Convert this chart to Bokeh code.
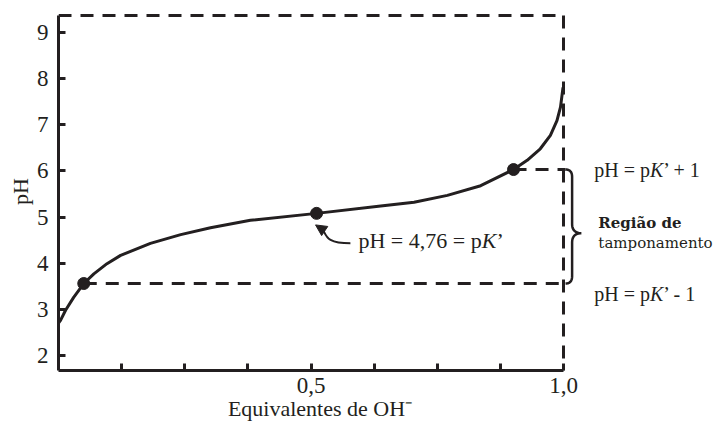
from bokeh.plotting import figure
from bokeh.layouts import row
from bokeh.models import Range1d, FixedTicker, CustomJSTickFormatter, Label, Arrow, NormalHead
from bokeh.embed import file_html
from bokeh.resources import INLINE
import numpy as np

# ---- data ----
eq_oh = [0.0, 0.004, 0.014, 0.030, 0.05, 0.070, 0.096, 0.123, 0.182, 0.242, 0.301, 0.380,
         0.511, 0.638, 0.704, 0.770, 0.836, 0.901, 0.928, 0.954, 0.974, 0.987, 0.994, 0.999]
ph = [2.70, 2.76, 2.98, 3.26, 3.56, 3.77, 3.99, 4.17, 4.43, 4.62, 4.77, 4.93,
      5.08, 5.24, 5.32, 5.47, 5.68, 6.03, 6.23, 6.48, 6.77, 7.09, 7.38, 7.81]
mark_x = [0.05, 0.511, 0.901]
mark_ph = [3.56, 5.08, 6.03]
x_ticks_major = [0.5, 1.0]
x_ticks_minor = [0.125, 0.25, 0.375, 0.625, 0.75, 0.875]
y_ticks = [2, 3, 4, 5, 6, 7, 8, 9]
x_title = "Equivalentes de OH\u207b"
y_title = "pH"
x_max = 1.0
ph_top = 9.368
ph_bottom = 1.675

INK = "#231f20"
SERIF = "Liberation Serif"

yr = Range1d(ph_bottom, 9.433)
X_SPLIT = 1.0356

p = figure(width=581, height=432, output_backend="svg", toolbar_location=None,
           x_range=Range1d(0, X_SPLIT), y_range=yr,
           min_border_left=58, min_border_right=0, min_border_top=12, min_border_bottom=62)
q = figure(width=135, height=432, output_backend="svg", toolbar_location=None,
           x_range=Range1d(X_SPLIT, 1.303), y_range=yr,
           x_axis_location=None, y_axis_location=None,
           min_border_left=0, min_border_right=0, min_border_top=12, min_border_bottom=62)
for f in (p, q):
    f.outline_line_color = None
    f.background_fill_color = "white"
    f.border_fill_color = "white"
    f.xgrid.visible = False
    f.ygrid.visible = False

# axes
xa = p.xaxis[0]
xa.ticker = FixedTicker(ticks=x_ticks_major, minor_ticks=x_ticks_minor)
xa.formatter = CustomJSTickFormatter(code="return tick.toFixed(1).replace('.', ',')")
xa.bounds = (0, x_max)
ya = p.yaxis[0]
ya.ticker = FixedTicker(ticks=y_ticks)
ya.bounds = (ph_bottom, ph_top)
for ax in (xa, ya):
    ax.axis_line_width = 3
    ax.axis_line_color = INK
    ax.major_tick_in = 7
    ax.major_tick_out = 0
    ax.minor_tick_in = 7
    ax.minor_tick_out = 0
    ax.major_tick_line_width = 3
    ax.minor_tick_line_width = 3
    ax.major_tick_line_color = INK
    ax.minor_tick_line_color = INK
    ax.major_label_text_font = SERIF
    ax.major_label_text_font_size = "23px"
    ax.major_label_text_color = INK
    ax.axis_label_text_font = SERIF
    ax.axis_label_text_font_size = "22px"
    ax.axis_label_text_font_style = "normal"
    ax.axis_label_text_color = INK
xa.major_label_standoff = 7
xa.axis_label = x_title
xa.axis_label_standoff = 0
ya.minor_tick_line_color = None
ya.major_label_standoff = 10
ya.axis_label = y_title
ya.axis_label_standoff = 1

# dashed frame (top and right)
p.line([0, x_max], [ph_top, ph_top], line_color=INK, line_width=3, line_dash="13 9")
p.line([x_max, x_max], [ph_top, ph_bottom], line_color=INK, line_width=3, line_dash="13 9")

# dashed guides at pK' +/- 1
brace_x0 = x_max + 0.004
p.line([mark_x[2], brace_x0], [mark_ph[2], mark_ph[2]], line_color=INK, line_width=3, line_dash="13 9")
p.line([mark_x[0], brace_x0], [mark_ph[0], mark_ph[0]], line_color=INK, line_width=3, line_dash="13 9")

# titration curve
p.line(eq_oh, ph, line_color=INK, line_width=3, line_join="round")
p.scatter(mark_x, mark_ph, size=12, color=INK)

# curly brace
def quad(a, c, b, n=12):
    t = np.linspace(0, 1, n)
    x = (1 - t) ** 2 * a[0] + 2 * (1 - t) * t * c[0] + t ** 2 * b[0]
    y = (1 - t) ** 2 * a[1] + 2 * (1 - t) * t * c[1] + t ** 2 * b[1]
    return list(x), list(y)

xb = x_max + 0.017
xt = x_max + 0.036
yt, yb = mark_ph[2], mark_ph[0]
ytip = 4.65
bx, by = [], []
for seg in [quad((brace_x0, yt), (xb, yt), (xb, yt - 0.16)),
            quad((xb, ytip + 0.2), (xb, ytip), (xt, ytip)),
            quad((xt, ytip), (xb, ytip), (xb, ytip - 0.2)),
            quad((xb, yb + 0.16), (xb, yb), (brace_x0, yb))]:
    bx += seg[0]
    by += seg[1]
for f in (p, q):
    f.line(bx, by, line_color=INK, line_width=2.5)

# arrow to pK' point
mx, my = mark_x[1], mark_ph[1]
p.bezier(x0=[mx + 0.067], y0=[my - 0.65], x1=[mx + 0.013], y1=[my - 0.36],
         cx0=[mx + 0.02], cy0=[my - 0.65], cx1=[mx + 0.02], cy1=[my - 0.5],
         line_color=INK, line_width=2)
p.add_layout(Arrow(end=NormalHead(size=11, fill_color=INK, line_color=INK, line_width=1),
                   x_start=mx + 0.013, y_start=my - 0.36, x_end=mx - 0.002, y_end=my - 0.25,
                   line_color=INK, line_width=2))

def lab(f, x, y, text, off=0, size="22px", style="normal", font=SERIF):
    f.add_layout(Label(x=x, y=y, text=text, x_offset=off, text_baseline="middle",
                       text_font=font, text_font_size=size, text_font_style=style,
                       text_color=INK))

# mid label
tx, ty = 0.594, 4.49
lab(p, tx, ty, "pH = 4,76 = p")
lab(p, tx, ty, "K", off=123.2, style="italic")
lab(p, tx, ty, "\u2019", off=137.9)

# right labels
rx = 1.061
for yy, tail in [(mark_ph[2], "\u2019 + 1"), (3.34, "\u2019 - 1")]:
    lab(q, rx, yy, "pH = p", size="20px")
    lab(q, rx, yy, "K", off=55.7, size="20px", style="italic")
    lab(q, rx, yy, tail, off=69.0, size="20px")
lab(q, 1.069, 4.88, "Região de", size="15px", style="bold", font="DejaVu Serif")
lab(q, 1.069, 4.43, "tamponamento", size="15px", font="DejaVu Serif")

layout = row(p, q, spacing=0)
open("out.html", "w").write(file_html(layout, INLINE))
